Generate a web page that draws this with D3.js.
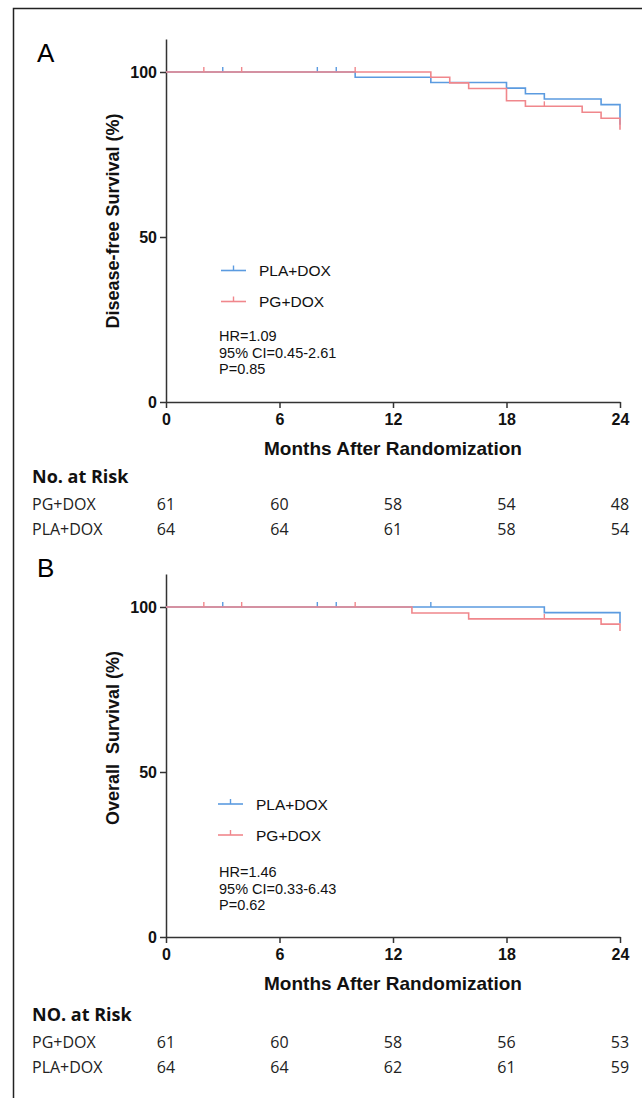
<!DOCTYPE html>
<html>
<head>
<meta charset="utf-8">
<script src="https://cdnjs.cloudflare.com/ajax/libs/d3/7.8.5/d3.min.js"></script>
<style>
  body { margin: 0; background: #fff; }
  svg { display: block; }
  .axis path, .axis line { stroke: #333; stroke-width: 1.5; }
  .axis text { font-family: "Liberation Sans", Arial, sans-serif; font-weight: bold; font-size: 16px; fill: #111; }
</style>
</head>
<body>
<svg id="chart" width="642" height="1098"></svg>
<script>
// x ticks (months) shared by both panels
var monthTicks = [0, 6, 12, 18, 24];
var survTicks = [0, 50, 100];
var groups = ["PLA+DOX", "PG+DOX"];

// panel A: disease-free survival (step times and survival %)
var dfsPlaTimes = [0, 10, 14, 18, 19, 20, 23, 24];
var dfsPlaSurv  = [100, 98.4, 96.8, 95.1, 93.4, 91.8, 90.1, 84.0];
var dfsPlaCens  = [3, 8, 9];
var dfsPgTimes  = [0, 14, 15, 16, 18, 19, 22, 23, 24];
var dfsPgSurv   = [100, 98.4, 96.7, 95.0, 91.3, 89.6, 87.8, 86.0, 82.5];
var dfsPgCens   = [2, 4, 10, 20];
var dfsRiskPg   = [61, 60, 58, 54, 48];
var dfsRiskPla  = [64, 64, 61, 58, 54];
var dfsStats    = ["HR=1.09", "95% CI=0.45-2.61", "P=0.85"];

// panel B: overall survival
var osPlaTimes = [0, 20, 24];
var osPlaSurv  = [100, 98.3, 95.0];
var osPlaCens  = [3, 8, 9, 14];
var osPgTimes  = [0, 13, 16, 23, 24];
var osPgSurv   = [100, 98.2, 96.4, 94.8, 92.7];
var osPgCens   = [2, 4, 10, 20];
var osRiskPg   = [61, 60, 58, 56, 53];
var osRiskPla  = [64, 64, 62, 61, 59];
var osStats    = ["HR=1.46", "95% CI=0.33-6.43", "P=0.62"];

var blue = "#5b9be0", red = "#f0878c";
var svg = d3.select("#chart");

// frame (left and top edges)
svg.append("path").attr("d", "M13.5,1098 V8.5 H642")
  .attr("fill", "none").attr("stroke", "#222").attr("stroke-width", 1.5);

function drawPanel(cfg) {
  var dy = cfg.dy;
  var x = d3.scaleLinear().domain([0, 24]).range([166, 620]);
  var y = d3.scaleLinear().domain([0, 110]).range([402 + dy, 39 + dy]);
  var g = svg.append("g");

  // panel letter
  g.append("text").attr("x", 37).attr("y", cfg.letterY)
    .style("font-family", "Liberation Sans, Arial, sans-serif").style("font-size", "26px")
    .text(cfg.letter);

  // axes
  g.append("g").attr("class", "axis").attr("transform", "translate(0," + (402 + dy) + ")")
    .call(d3.axisBottom(x).tickValues(monthTicks).tickSize(6).tickSizeOuter(0).tickPadding(3))
    .call(function(a) { a.selectAll("text").attr("dy", "0.85em"); });
  g.append("g").attr("class", "axis").attr("transform", "translate(166,0)")
    .call(d3.axisLeft(y).tickValues(survTicks).tickSize(6).tickSizeOuter(0).tickPadding(3));

  // axis titles
  g.append("text").attr("x", 393).attr("y", 455 + dy).attr("text-anchor", "middle")
    .style("font-family", "Liberation Sans, Arial, sans-serif").style("font-weight", "bold")
    .style("font-size", "19px").attr("fill", "#111").text("Months After Randomization");
  g.append("text").attr("transform", "translate(119," + cfg.yTitleY + ") rotate(-90)")
    .attr("text-anchor", "middle")
    .style("font-family", "Liberation Sans, Arial, sans-serif").style("font-weight", "bold")
    .style("font-size", "18px").style("white-space", "pre").attr("fill", "#111").text(cfg.yTitle);

  // curves
  var line = d3.line().x(function(d) { return x(d[0]); }).y(function(d) { return y(d[1]); })
    .curve(d3.curveStepAfter);
  cfg.series.forEach(function(s) {
    var pts = d3.zip(s.times, s.surv);
    g.append("path").datum(pts).attr("d", line)
      .attr("fill", "none").attr("stroke", s.color).attr("stroke-width", 1.6);
    var survAt = d3.scaleThreshold().domain(s.times.slice(1)).range(s.surv);
    g.selectAll(null).data(s.cens).enter().append("line")
      .attr("x1", function(t) { return x(t); }).attr("x2", function(t) { return x(t); })
      .attr("y1", function(t) { return y(survAt(t)); })
      .attr("y2", function(t) { return y(survAt(t)) - 5; })
      .attr("stroke", s.color).attr("stroke-width", 1.4);
  });

  // legend
  var leg = [{name: groups[0], color: blue}, {name: groups[1], color: red}];
  leg.forEach(function(l, i) {
    var ly = cfg.legY + i * 31;
    g.append("line").attr("x1", cfg.legX).attr("x2", cfg.legX + 25).attr("y1", ly).attr("y2", ly)
      .attr("stroke", l.color).attr("stroke-width", 1.6);
    g.append("line").attr("x1", cfg.legX + 12.5).attr("x2", cfg.legX + 12.5)
      .attr("y1", ly).attr("y2", ly - 5).attr("stroke", l.color).attr("stroke-width", 1.4);
    g.append("text").attr("x", cfg.legX + 38).attr("y", ly + 5.5)
      .style("font-family", "Liberation Sans, Arial, sans-serif").style("font-size", "15.5px")
      .attr("fill", "#111").text(l.name);
  });
  cfg.stats.forEach(function(t, i) {
    g.append("text").attr("x", 219).attr("y", cfg.statY + i * 16.7)
      .style("font-family", "Liberation Sans, Arial, sans-serif").style("font-size", "14.5px")
      .attr("fill", "#111").text(t);
  });

  // number at risk table
  var tf = "Open Sans, Noto Sans, sans-serif";
  g.append("text").attr("x", 32).attr("y", 483 + cfg.rdy)
    .style("font-family", tf).style("font-weight", "bold").style("font-size", "18px")
    .attr("fill", "#111").text(cfg.riskTitle);
  var rows = [{name: "PG+DOX", vals: cfg.riskPg}, {name: "PLA+DOX", vals: cfg.riskPla}];
  rows.forEach(function(r, i) {
    var ry = 510 + cfg.rdy + i * 24.5;
    g.append("text").attr("x", 32).attr("y", ry)
      .style("font-family", tf).style("font-size", "16px").attr("fill", "#222").text(r.name);
    g.selectAll(null).data(r.vals).enter().append("text")
      .attr("x", function(d, j) { return x(monthTicks[j]); }).attr("y", ry)
      .attr("text-anchor", "middle")
      .style("font-family", tf).style("font-size", "16px").attr("fill", "#222")
      .text(function(d) { return d; });
  });
}

drawPanel({
  dy: 0, letter: "A", letterY: 62, yTitle: "Disease-free Survival (%)", yTitleY: 221,
  series: [
    {times: dfsPlaTimes, surv: dfsPlaSurv, cens: dfsPlaCens, color: blue},
    {times: dfsPgTimes, surv: dfsPgSurv, cens: dfsPgCens, color: red}
  ],
  legX: 221, legY: 270.5, stats: dfsStats, statY: 341,
  riskTitle: "No. at Risk", riskPg: dfsRiskPg, riskPla: dfsRiskPla, rdy: 0
});

drawPanel({
  dy: 535, letter: "B", letterY: 577, yTitle: "Overall  Survival (%)", yTitleY: 738,
  series: [
    {times: osPlaTimes, surv: osPlaSurv, cens: osPlaCens, color: blue},
    {times: osPgTimes, surv: osPgSurv, cens: osPgCens, color: red}
  ],
  legX: 218, legY: 804, stats: osStats, statY: 877,
  riskTitle: "NO. at Risk", riskPg: osRiskPg, riskPla: osRiskPla, rdy: 538
});
</script>
</body>
</html>
